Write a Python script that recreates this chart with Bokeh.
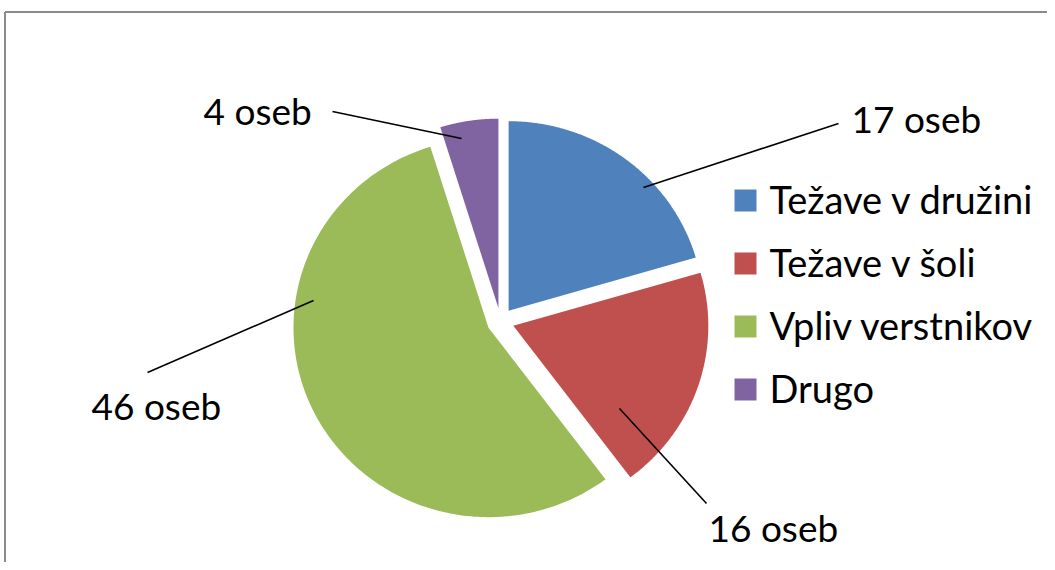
import numpy as np
from bokeh.plotting import figure
from bokeh.models import Range1d
from bokeh.core.properties import value
from bokeh.embed import file_html
from bokeh.resources import INLINE

# ---- data ----
categories = ["Težave v družini", "Težave v šoli", "Vpliv verstnikov", "Drugo"]
counts = [17, 16, 46, 4]
label_texts = ["17 oseb", "16 oseb", "46 oseb", "4 oseb"]
colors = ["#4F81BD", "#C0504D", "#9BBB59", "#8064A2"]

# ---- layout (picture pixel coordinates, y downwards) ----
W, H = 1047, 562
CX, CY = 500.0, 321.0
RX, RY = 195.0, 189.5
EXPLODE = 13.5
FONT = "Lato"
FS_LABEL = "37px"
FS_LEGEND = "38px"
TEXT_SHIFT = -13  # renderer baseline correction

# label anchors (left, baseline) and leader line ends
label_pos = [(851, 131), (708, 540), (91, 418), (203, 123)]
leader_from = [(643, 187), (619, 408), (313, 300), (461, 138)]
leader_to = [(838, 123), (706, 503), (147, 372), (332, 111)]

p = figure(width=W, height=H, output_backend="svg", toolbar_location=None,
           x_range=Range1d(0, W), y_range=Range1d(H, 0),
           min_border=0, outline_line_color=None)
p.axis.visible = False
p.grid.visible = False
p.background_fill_color = "white"
p.border_fill_color = "white"

# chart area border (top & left visible)
p.line(x=[4.5, W], y=[11.5, 11.5], line_color="#8A8A8A", line_width=2)
p.line(x=[4.5, 4.5], y=[11.5, H], line_color="#8A8A8A", line_width=2)

# exploded pie, clockwise from 12 o'clock
total = float(sum(counts))
xs, ys = [], []
cum = 0.0
for v in counts:
    a0 = cum / total * 2 * np.pi
    a1 = (cum + v) / total * 2 * np.pi
    mid = (a0 + a1) / 2
    ox = CX + EXPLODE * np.sin(mid)
    oy = CY - EXPLODE * np.cos(mid)
    t = np.linspace(a0, a1, 200)
    px = np.concatenate([[ox], ox + RX * np.sin(t)])
    py = np.concatenate([[oy], oy - RY * np.cos(t)])
    xs.append(list(px))
    ys.append(list(py))
    cum += v
p.patches(xs=xs, ys=ys, fill_color=colors, line_color=None)

# leader lines
p.segment(x0=[a[0] for a in leader_from], y0=[a[1] for a in leader_from],
          x1=[b[0] for b in leader_to], y1=[b[1] for b in leader_to],
          line_color="black", line_width=1.6)

# data labels
p.text(x=[l[0] for l in label_pos], y=[l[1] + TEXT_SHIFT for l in label_pos], text=label_texts,
       text_font=value(FONT), text_font_size=FS_LABEL, text_color="black",
       text_align="left", text_baseline="alphabetic")

# legend
leg_y = [211 + 63 * i for i in range(len(categories))]
p.rect(x=[745] * len(categories), y=[y - 11 for y in leg_y], width=22, height=22,
       fill_color=colors, line_color=None)
p.text(x=[769] * len(categories), y=[y + TEXT_SHIFT for y in leg_y], text=categories,
       text_font=value(FONT), text_font_size=FS_LEGEND, text_color="black",
       text_align="left", text_baseline="alphabetic")

open("out.html", "w").write(file_html(p, INLINE))
